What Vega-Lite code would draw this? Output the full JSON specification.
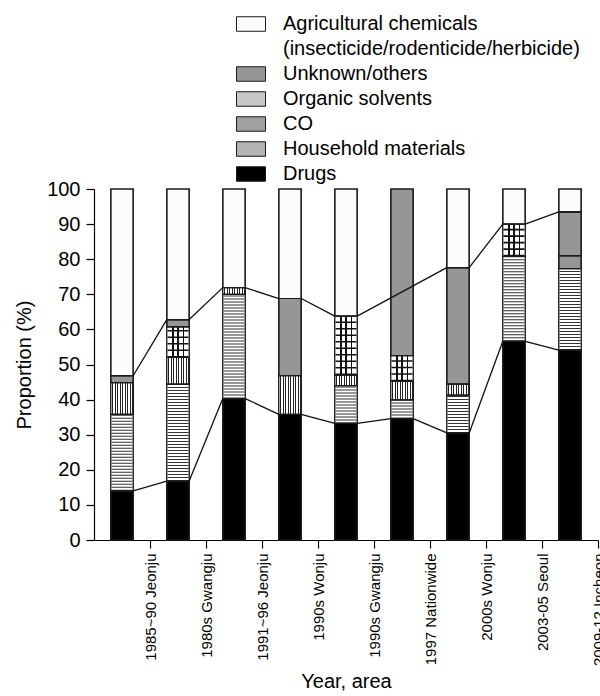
{
  "$schema": "https://vega.github.io/schema/vega-lite/v6.json",
  "width": 504,
  "height": 351,
  "autosize": {"type": "none"},
  "padding": {"left": 94, "top": 189, "right": 2, "bottom": 156},
  "background": "white",
  "config": {
    "view": {"stroke": null},
    "font": "Liberation Sans",
    "axis": {
      "domainColor": "black", "tickColor": "black", "labelColor": "black", "titleColor": "black",
      "labelFontSize": 20, "titleFontSize": 20, "titleFontWeight": "normal",
      "labelFont": "Liberation Sans", "titleFont": "Liberation Sans",
      "tickSize": 8, "grid": false, "domainWidth": 1.2, "tickWidth": 1.2
    }
  },
  "datasets": {
    "bars": [
      {"label": "1985~90 Jeonju", "category": "Drugs", "value": 14.0},
      {"label": "1985~90 Jeonju", "category": "Household materials", "value": 21.8},
      {"label": "1985~90 Jeonju", "category": "CO", "value": 9.0},
      {"label": "1985~90 Jeonju", "category": "Unknown/others", "value": 2.0},
      {"label": "1985~90 Jeonju", "category": "Agricultural chemicals", "value": 53.2},
      {"label": "1980s Gwangju", "category": "Drugs", "value": 16.8},
      {"label": "1980s Gwangju", "category": "Household materials", "value": 27.6},
      {"label": "1980s Gwangju", "category": "CO", "value": 7.6},
      {"label": "1980s Gwangju", "category": "Organic solvents", "value": 8.7},
      {"label": "1980s Gwangju", "category": "Unknown/others", "value": 2.1},
      {"label": "1980s Gwangju", "category": "Agricultural chemicals", "value": 37.2},
      {"label": "1991~96 Jeonju", "category": "Drugs", "value": 40.3},
      {"label": "1991~96 Jeonju", "category": "Household materials", "value": 29.7},
      {"label": "1991~96 Jeonju", "category": "CO", "value": 1.9},
      {"label": "1991~96 Jeonju", "category": "Agricultural chemicals", "value": 28.1},
      {"label": "1990s Wonju", "category": "Drugs", "value": 35.8},
      {"label": "1990s Wonju", "category": "CO", "value": 11.0},
      {"label": "1990s Wonju", "category": "Unknown/others", "value": 22.0},
      {"label": "1990s Wonju", "category": "Agricultural chemicals", "value": 31.2},
      {"label": "1990s Gwangju", "category": "Drugs", "value": 33.2},
      {"label": "1990s Gwangju", "category": "Household materials", "value": 10.8},
      {"label": "1990s Gwangju", "category": "CO", "value": 3.0},
      {"label": "1990s Gwangju", "category": "Organic solvents", "value": 16.8},
      {"label": "1990s Gwangju", "category": "Agricultural chemicals", "value": 36.2},
      {"label": "1997 Nationwide", "category": "Drugs", "value": 34.6},
      {"label": "1997 Nationwide", "category": "Household materials", "value": 5.3},
      {"label": "1997 Nationwide", "category": "CO", "value": 5.3},
      {"label": "1997 Nationwide", "category": "Organic solvents", "value": 7.3},
      {"label": "1997 Nationwide", "category": "Unknown/others", "value": 47.5},
      {"label": "2000s Wonju", "category": "Drugs", "value": 30.5},
      {"label": "2000s Wonju", "category": "Household materials", "value": 10.8},
      {"label": "2000s Wonju", "category": "CO", "value": 3.1},
      {"label": "2000s Wonju", "category": "Unknown/others", "value": 33.2},
      {"label": "2000s Wonju", "category": "Agricultural chemicals", "value": 22.4},
      {"label": "2003-05 Seoul", "category": "Drugs", "value": 56.6},
      {"label": "2003-05 Seoul", "category": "Household materials", "value": 24.2},
      {"label": "2003-05 Seoul", "category": "Organic solvents", "value": 9.2},
      {"label": "2003-05 Seoul", "category": "Agricultural chemicals", "value": 10.0},
      {"label": "2009-12 Incheon", "category": "Drugs", "value": 54.1},
      {"label": "2009-12 Incheon", "category": "Household materials", "value": 23.2},
      {"label": "2009-12 Incheon", "category": "Unknown/others", "value": 3.7},
      {"label": "2009-12 Incheon", "category": "Unknown/others", "value": 12.5},
      {"label": "2009-12 Incheon", "category": "Agricultural chemicals", "value": 6.5}
    ],
    "links": [
      {"label": "1985~90 Jeonju", "to": "1980s Gwangju", "y0": 46.8, "y1": 62.8},
      {"label": "1980s Gwangju", "to": "1991~96 Jeonju", "y0": 62.8, "y1": 71.9},
      {"label": "1991~96 Jeonju", "to": "1990s Wonju", "y0": 71.9, "y1": 68.8},
      {"label": "1990s Wonju", "to": "1990s Gwangju", "y0": 68.8, "y1": 63.8},
      {"label": "1990s Gwangju", "to": "2000s Wonju", "y0": 63.8, "y1": 77.6},
      {"label": "2000s Wonju", "to": "2003-05 Seoul", "y0": 77.6, "y1": 90.0},
      {"label": "2003-05 Seoul", "to": "2009-12 Incheon", "y0": 90.0, "y1": 93.5},
      {"label": "1985~90 Jeonju", "to": "1980s Gwangju", "y0": 14.0, "y1": 16.8},
      {"label": "1980s Gwangju", "to": "1991~96 Jeonju", "y0": 16.8, "y1": 40.3},
      {"label": "1991~96 Jeonju", "to": "1990s Wonju", "y0": 40.3, "y1": 35.8},
      {"label": "1990s Wonju", "to": "1990s Gwangju", "y0": 35.8, "y1": 33.2},
      {"label": "1990s Gwangju", "to": "1997 Nationwide", "y0": 33.2, "y1": 34.6},
      {"label": "1997 Nationwide", "to": "2000s Wonju", "y0": 34.6, "y1": 30.5},
      {"label": "2000s Wonju", "to": "2003-05 Seoul", "y0": 30.5, "y1": 56.6},
      {"label": "2003-05 Seoul", "to": "2009-12 Incheon", "y0": 56.6, "y1": 54.1}
    ]
  },
  "encoding": {
    "x": {
      "field": "label", "type": "nominal", "title": "Year, area",
      "scale": {"domain": ["1985~90 Jeonju", "1980s Gwangju", "1991~96 Jeonju", "1990s Wonju", "1990s Gwangju", "1997 Nationwide", "2000s Wonju", "2003-05 Seoul", "2009-12 Incheon"], "paddingInner": 0.6, "paddingOuter": 0.3},
      "axis": {"labelAngle": -90, "labelFontSize": 15, "labelPadding": 5, "titlePadding": 6, "tickOffset": 28}
    },
    "y": {
      "field": "y0", "type": "quantitative", "title": "Proportion (%)",
      "scale": {"domain": [0, 100], "nice": false},
      "axis": {"tickCount": 10, "labelPadding": 6, "titlePadding": 12}
    },
    "y2": {"field": "y1"}
  },
  "layer": [
    {
      "data": {"name": "bars"},
      "transform": [{"stack": "value", "groupby": ["label"], "as": ["y0", "y1"]}],
      "layer": [
        {
          "mark": {"type": "bar", "strokeWidth": 1.2},
          "encoding": {
            "fill": {
              "field": "category", "type": "nominal",
              "scale": {
                "domain": ["Agricultural chemicals", "(insecticide/rodenticide/herbicide)", "Unknown/others", "Organic solvents", "CO", "Household materials", "Drugs"],
                "range": ["#fcfcfc", "transparent", "#969696", "#c8c8c8", "#a0a0a0", "#b4b4b4", "black"]
              },
              "legend": {
                "orient": "none", "legendX": 142, "legendY": -180, "title": null, "padding": 0,
                "symbolType": "M-1,-0.5H1V0.5H-1Z", "symbolSize": 841, "symbolStrokeWidth": 1,
                "labelFontSize": 20, "labelFont": "Liberation Sans", "labelColor": "black",
                "labelOffset": 17, "labelLimit": 0, "rowPadding": -1
              }
            },
            "stroke": {
              "field": "category", "type": "nominal",
              "scale": {
                "domain": ["Agricultural chemicals", "(insecticide/rodenticide/herbicide)", "Unknown/others", "Organic solvents", "CO", "Household materials", "Drugs"],
                "range": ["#1a1a1a", "transparent", "#1a1a1a", "#1a1a1a", "#1a1a1a", "#1a1a1a", "#1a1a1a"]
              },
              "legend": {
                "orient": "none", "legendX": 142, "legendY": -180, "title": null, "padding": 0,
                "symbolType": "M-1,-0.5H1V0.5H-1Z", "symbolSize": 841, "symbolStrokeWidth": 1,
                "labelFontSize": 20, "labelFont": "Liberation Sans", "labelColor": "black",
                "labelOffset": 17, "labelLimit": 0, "rowPadding": -1
              }
            }
          }
        },
        {
          "transform": [{"filter": "datum.category === 'Household materials'"}],
          "mark": {"type": "bar", "fill": "white", "strokeWidth": 0}
        },
        {
          "transform": [{"filter": "datum.category === 'Organic solvents'"}],
          "mark": {
            "type": "bar", "strokeWidth": 0,
            "fill": {"gradient": "linear", "x1": 0, "y1": 0, "x2": 1, "y2": 0, "stops": [
              {"offset": 0, "color": "white"}, {"offset": 0.24, "color": "white"}, {"offset": 0.24, "color": "#111"}, {"offset": 0.3, "color": "#111"},
              {"offset": 0.3, "color": "white"}, {"offset": 0.47, "color": "white"}, {"offset": 0.47, "color": "#111"}, {"offset": 0.53, "color": "#111"},
              {"offset": 0.53, "color": "white"}, {"offset": 0.72, "color": "white"}, {"offset": 0.72, "color": "#111"}, {"offset": 0.78, "color": "#111"},
              {"offset": 0.78, "color": "white"}, {"offset": 1, "color": "white"}
            ]}
          }
        },
        {
          "transform": [{"filter": "datum.category === 'CO'"}],
          "mark": {
            "type": "bar", "strokeWidth": 0,
            "fill": {"gradient": "linear", "x1": 0, "y1": 0, "x2": 1, "y2": 0, "stops": [
              {"offset": 0, "color": "white"}, {"offset": 0.0667, "color": "white"}, {"offset": 0.0667, "color": "#222"}, {"offset": 0.1111, "color": "#222"},
              {"offset": 0.1111, "color": "white"}, {"offset": 0.1778, "color": "white"}, {"offset": 0.1778, "color": "#222"}, {"offset": 0.2222, "color": "#222"},
              {"offset": 0.2222, "color": "white"}, {"offset": 0.2889, "color": "white"}, {"offset": 0.2889, "color": "#222"}, {"offset": 0.3333, "color": "#222"},
              {"offset": 0.3333, "color": "white"}, {"offset": 0.4, "color": "white"}, {"offset": 0.4, "color": "#222"}, {"offset": 0.4444, "color": "#222"},
              {"offset": 0.4444, "color": "white"}, {"offset": 0.5111, "color": "white"}, {"offset": 0.5111, "color": "#222"}, {"offset": 0.5556, "color": "#222"},
              {"offset": 0.5556, "color": "white"}, {"offset": 0.6222, "color": "white"}, {"offset": 0.6222, "color": "#222"}, {"offset": 0.6667, "color": "#222"},
              {"offset": 0.6667, "color": "white"}, {"offset": 0.7333, "color": "white"}, {"offset": 0.7333, "color": "#222"}, {"offset": 0.7778, "color": "#222"},
              {"offset": 0.7778, "color": "white"}, {"offset": 0.8444, "color": "white"}, {"offset": 0.8444, "color": "#222"}, {"offset": 0.8889, "color": "#222"},
              {"offset": 0.8889, "color": "white"}, {"offset": 0.9556, "color": "white"}, {"offset": 0.9556, "color": "#222"}, {"offset": 1, "color": "#222"}
            ]}
          }
        },
        {
          "transform": [{"filter": "datum.category === 'Household materials'"}],
          "mark": {"type": "rule", "stroke": "#333", "strokeWidth": 21, "strokeDash": [1, 2]}
        },
        {
          "transform": [{"filter": "datum.category === 'Organic solvents'"}],
          "mark": {"type": "rule", "stroke": "#111", "strokeWidth": 21, "strokeDash": [1.6, 4.9]}
        },
        {
          "mark": {"type": "bar", "fill": "transparent", "stroke": "#1a1a1a", "strokeWidth": 1.2}
        }
      ]
    },
    {
      "data": {"name": "links"},
      "mark": {"type": "rule", "stroke": "#111", "strokeWidth": 1.3, "xOffset": 11.2, "x2Offset": -11.2},
      "encoding": {
        "x2": {"field": "to"}
      }
    }
  ]
}
